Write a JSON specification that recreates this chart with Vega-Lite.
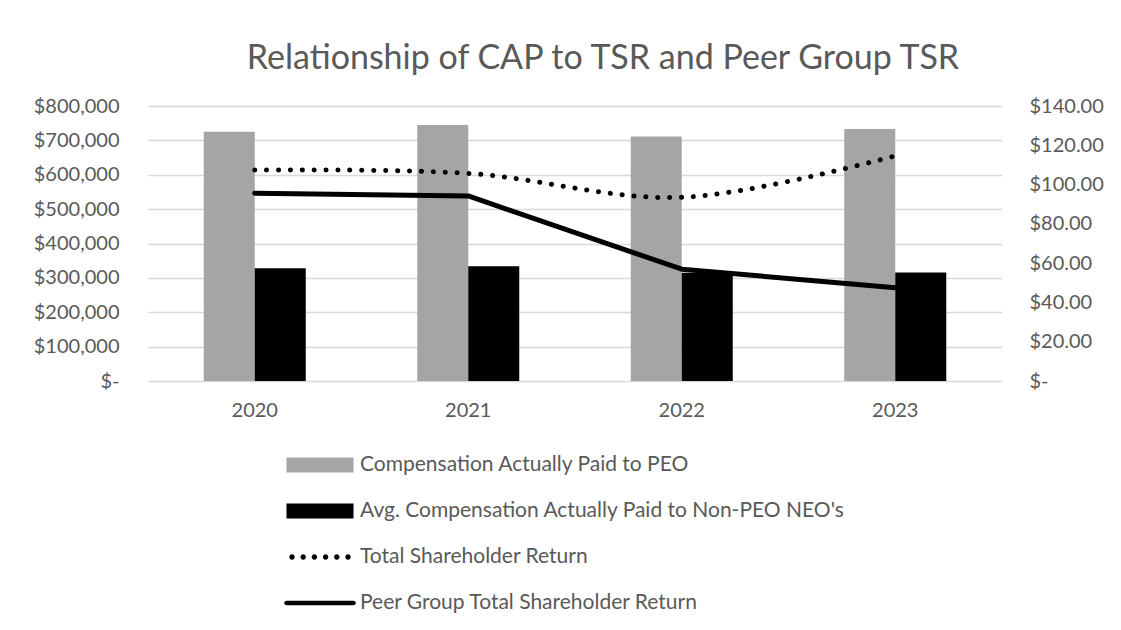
{
  "$schema": "https://vega.github.io/schema/vega-lite/v6.json",
  "width": 854,
  "height": 275,
  "autosize": {"type": "none"},
  "padding": {"left": 148, "top": 106, "right": 119, "bottom": 249},
  "background": "white",
  "config": {"view": {"stroke": null}, "font": "Lato"},
  "title": {
    "text": "Relationship of CAP to TSR and Peer Group TSR",
    "fontSize": 34,
    "font": "Lato",
    "fontWeight": "normal",
    "color": "#595959",
    "anchor": "middle",
    "dx": 28,
    "offset": 20
  },
  "data": {
    "values": [
      {"year": "2020", "series": "Compensation Actually Paid to PEO", "kind": "bar", "value": 725000},
      {"year": "2021", "series": "Compensation Actually Paid to PEO", "kind": "bar", "value": 745000},
      {"year": "2022", "series": "Compensation Actually Paid to PEO", "kind": "bar", "value": 711000},
      {"year": "2023", "series": "Compensation Actually Paid to PEO", "kind": "bar", "value": 733000},
      {"year": "2020", "series": "Avg. Compensation Actually Paid to Non-PEO NEO's", "kind": "bar", "value": 328000},
      {"year": "2021", "series": "Avg. Compensation Actually Paid to Non-PEO NEO's", "kind": "bar", "value": 334000},
      {"year": "2022", "series": "Avg. Compensation Actually Paid to Non-PEO NEO's", "kind": "bar", "value": 315000},
      {"year": "2023", "series": "Avg. Compensation Actually Paid to Non-PEO NEO's", "kind": "bar", "value": 316000},
      {"year": "2020", "series": "Total Shareholder Return", "kind": "tsr", "value": 107.4},
      {"year": "2021", "series": "Total Shareholder Return", "kind": "tsr", "value": 105.7},
      {"year": "2022", "series": "Total Shareholder Return", "kind": "tsr", "value": 93.5},
      {"year": "2023", "series": "Total Shareholder Return", "kind": "tsr", "value": 114.6},
      {"year": "2020", "series": "Peer Group Total Shareholder Return", "kind": "peer", "value": 95.6},
      {"year": "2021", "series": "Peer Group Total Shareholder Return", "kind": "peer", "value": 94.2},
      {"year": "2022", "series": "Peer Group Total Shareholder Return", "kind": "peer", "value": 56.9},
      {"year": "2023", "series": "Peer Group Total Shareholder Return", "kind": "peer", "value": 47.5}
    ]
  },
  "encoding": {
    "x": {
      "field": "year",
      "type": "ordinal",
      "scale": {"paddingInner": 0.5222, "paddingOuter": 0.2611},
      "axis": {
        "title": null,
        "domain": false,
        "ticks": false,
        "grid": false,
        "labelAngle": 0,
        "labelFont": "Lato",
        "labelFontSize": 20,
        "labelColor": "#595959",
        "labelPadding": 19
      }
    },
    "color": {
      "field": "series",
      "type": "nominal",
      "scale": {
        "domain": ["Compensation Actually Paid to PEO", "Avg. Compensation Actually Paid to Non-PEO NEO's", "Total Shareholder Return", "Peer Group Total Shareholder Return"],
        "range": ["#a5a5a5", "#000000", "#000000", "#000000"]
      },
      "legend": {
        "orient": "none",
        "legendX": 161.5,
        "legendY": 348.5,
        "title": null,
        "padding": 0,
        "direction": "vertical",
        "labelFont": "Lato",
        "labelFontSize": 21,
        "labelColor": "#595959",
        "labelOffset": 29.5,
        "labelLimit": 700,
        "rowPadding": 24,
        "symbolSize": 400,
        "encode": {
          "symbols": {
            "update": {
              "shape": {"signal": "datum.value == 'Total Shareholder Return' ? 'M-3.07,0a0.27,0.27 0 1,0 0.54,0a0.27,0.27 0 1,0 -0.54,0M-1.95,0a0.27,0.27 0 1,0 0.54,0a0.27,0.27 0 1,0 -0.54,0M-0.83,0a0.27,0.27 0 1,0 0.54,0a0.27,0.27 0 1,0 -0.54,0M0.29,0a0.27,0.27 0 1,0 0.54,0a0.27,0.27 0 1,0 -0.54,0M1.41,0a0.27,0.27 0 1,0 0.54,0a0.27,0.27 0 1,0 -0.54,0M2.53,0a0.27,0.27 0 1,0 0.54,0a0.27,0.27 0 1,0 -0.54,0' : (datum.value == 'Peer Group Total Shareholder Return' ? 'M-3.35,-0.23H3.35A0.23,0.23 0 0 1 3.35,0.23H-3.35A0.23,0.23 0 0 1 -3.35,-0.23Z' : 'M-3.35,-0.75H3.35V0.75H-3.35Z')"},
              "fill": {"signal": "datum.value == 'Compensation Actually Paid to PEO' ? '#a5a5a5' : '#000000'"},
              "stroke": {"value": "transparent"},
              "strokeWidth": {"value": 0},
              "strokeDash": {"value": []},
              "opacity": {"value": 1},
              "fillOpacity": {"value": 1}
            }
          }
        }
      }
    }
  },
  "layer": [
    {
      "transform": [{"filter": "datum.kind == 'bar'"}],
      "mark": {"type": "bar"},
      "encoding": {
        "xOffset": {
          "field": "series",
          "type": "nominal",
          "scale": {"domain": ["Compensation Actually Paid to PEO", "Avg. Compensation Actually Paid to Non-PEO NEO's"], "paddingInner": 0, "paddingOuter": 0}
        },
        "y": {
          "field": "value",
          "type": "quantitative",
          "scale": {"domain": [0, 800000], "nice": false},
          "axis": {
            "title": null,
            "values": [0, 100000, 200000, 300000, 400000, 500000, 600000, 700000, 800000],
            "domain": false,
            "ticks": false,
            "labelExpr": "datum.value == 0 ? '$-\u00a0\u00a0' : format(datum.value, '$,.0f')",
            "labelFont": "Lato",
            "labelFontSize": 20,
            "labelColor": "#595959",
            "labelPadding": 29,
            "grid": true,
            "gridColor": "#d9d9d9",
            "gridWidth": 1.5
          }
        }
      }
    },
    {
      "encoding": {
        "y": {
          "field": "value",
          "type": "quantitative",
          "scale": {"domain": [0, 140], "nice": false},
          "axis": {
            "orient": "right",
            "title": null,
            "values": [0, 20, 40, 60, 80, 100, 120, 140],
            "domain": false,
            "ticks": false,
            "grid": false,
            "labelExpr": "datum.value == 0 ? '$-' : format(datum.value, '$.2f')",
            "labelFont": "Lato",
            "labelFontSize": 20,
            "labelColor": "#595959",
            "labelPadding": 27
          }
        }
      },
      "layer": [
        {
          "transform": [{"filter": "datum.kind == 'tsr'"}],
          "mark": {"type": "line", "strokeWidth": 5, "strokeCap": "round", "strokeDash": [0.1, 11.8], "interpolate": "catmull-rom"}
        },
        {
          "transform": [{"filter": "datum.kind == 'peer'"}],
          "mark": {"type": "line", "strokeWidth": 5, "strokeCap": "round", "strokeJoin": "round"}
        }
      ]
    }
  ],
  "resolve": {"scale": {"y": "independent"}}
}
